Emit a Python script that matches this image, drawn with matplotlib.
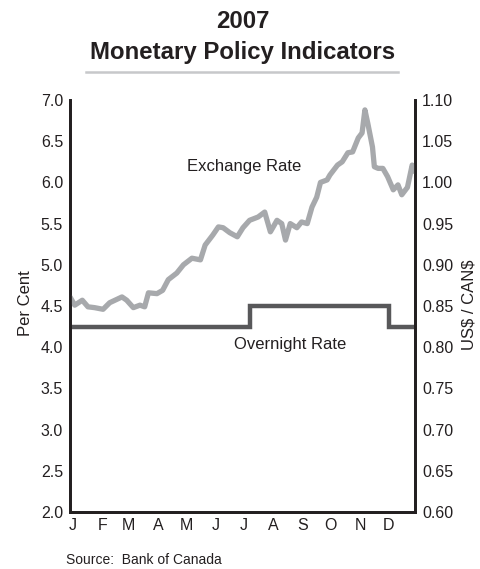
import matplotlib
matplotlib.use("Agg")
import matplotlib.pyplot as plt
from matplotlib.lines import Line2D

plt.rcParams['font.family'] = ['Liberation Sans', 'DejaVu Sans']

# exchange rate, US$ per CAN$, by day of year 2007
fx_day = [0, 5, 13, 19, 26, 35, 42, 55, 60, 67, 74, 79, 83, 92, 98, 104, 113, 120, 129, 138,
          143, 151, 157, 162, 169, 177, 183, 190, 199, 206, 212, 219, 224, 228, 233, 240, 245, 251, 256, 261,
          265, 272, 275, 283, 288, 294, 299, 305, 309, 312, 315, 320, 322, 326, 331, 336, 342, 347, 351, 357,
          362, 365]
fx_val = [0.861, 0.851, 0.857, 0.849, 0.848, 0.846, 0.854, 0.861, 0.857, 0.848,
          0.851, 0.849, 0.866, 0.865, 0.869, 0.882, 0.890, 0.900, 0.908, 0.906,
          0.924, 0.936, 0.946, 0.945, 0.939, 0.934, 0.945, 0.954, 0.958, 0.964,
          0.940, 0.954, 0.950, 0.930, 0.950, 0.945, 0.952, 0.950, 0.970, 0.982,
          1.000, 1.003, 1.009, 1.021, 1.025, 1.036, 1.037, 1.054, 1.060, 1.088,
          1.072, 1.043, 1.019, 1.017, 1.017, 1.007, 0.991, 0.997, 0.985, 0.994,
          1.021, 1.013]

# overnight rate target (per cent), step changes
on_day = [0, 190, 337, 365]
on_val = [4.25, 4.50, 4.25, 4.25]

month_start = [0, 31, 59, 90, 120, 151, 181, 212, 243, 273, 304, 334]
month_lbl = ['J', 'F', 'M', 'A', 'M', 'J', 'J', 'A', 'S', 'O', 'N', 'D']

left_ticks = [2.0, 2.5, 3.0, 3.5, 4.0, 4.5, 5.0, 5.5, 6.0, 6.5, 7.0]
right_ticks = [0.60, 0.65, 0.70, 0.75, 0.80, 0.85, 0.90, 0.95, 1.00, 1.05, 1.10]

ink = '#231f20'

fig = plt.figure(figsize=(4.8, 5.69), dpi=100)
ax = fig.add_axes([70/480, 1-512/569, 345/480, 412/569])
ax2 = ax.twinx()

ax.plot(on_day, on_val, drawstyle='steps-post', color='#58585a', lw=3.2, solid_joinstyle='miter')
ax2.plot(fx_day, fx_val, color='#a7a9ac', lw=3.8, solid_joinstyle='round', solid_capstyle='round')

ax.set_xlim(0, 365)
ax.set_ylim(2.0, 7.0)
ax2.set_ylim(0.60, 1.10)

ax.set_yticks(left_ticks)
ax.set_yticklabels(['%.1f' % v for v in left_ticks])
ax2.set_yticks(right_ticks)
ax2.set_yticklabels(['%.2f' % v for v in right_ticks])
ax.set_xticks([d + 3 for d in month_start])
ax.set_xticklabels(month_lbl)

for a in (ax, ax2):
    a.spines['top'].set_visible(False)
    for s in ('left', 'right', 'bottom'):
        a.spines[s].set_color(ink)
        a.spines[s].set_linewidth(2)
    a.tick_params(length=0, labelsize=11.5, colors=ink, pad=5)
ax.tick_params(axis='x', pad=4)

ax.text(184, 6.14, 'Exchange Rate', ha='center', va='baseline', fontsize=12, color=ink)
ax.text(233, 3.98, 'Overnight Rate', ha='center', va='baseline', fontsize=12, color=ink)

fig.text(25/480, 1-303/569, 'Per Cent', rotation=90, ha='center', va='center', fontsize=12, color=ink)
fig.text(469/480, 1-305/569, r'US\$ / CAN\$', rotation=90, ha='center', va='center', fontsize=12, color=ink)

fig.text(243/480, 1-28/569, '2007', ha='center', va='baseline', fontsize=17.3, fontweight='bold', color=ink)
fig.text(243/480, 1-59/569, 'Monetary Policy Indicators', ha='center', va='baseline',
         fontsize=17.3, fontweight='bold', color=ink)
fig.add_artist(Line2D([86/480, 398/480], [1-72/569, 1-72/569], color='#c7c8ca', lw=1.8))

fig.text(66/480, 1-560/569, 'Source:  Bank of Canada', ha='left', va='center', fontsize=10, color=ink)

fig.savefig('out.png', dpi=100)
